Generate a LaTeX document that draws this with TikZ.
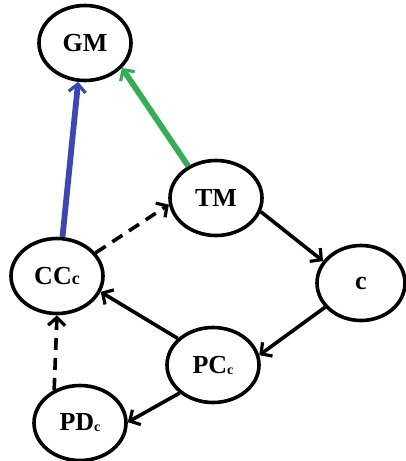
\documentclass[tikz,border=0pt]{standalone}
\usepackage{fontspec}
\setmainfont{Liberation Serif}
\usetikzlibrary{shapes.geometric,arrows.meta}
\begin{document}
\begin{tikzpicture}[x=1pt,y=-1pt,
  st/.style={ellipse,draw,line width=3.6pt,minimum width=92pt,minimum height=75pt,inner sep=0pt,font=\bfseries\fontsize{26}{26}\selectfont},
  ar/.style={line width=3.6pt,-{Straight Barb[length=8pt,width=17pt,line width=3.2pt]}},
  dar/.style={ar,dash pattern=on 12pt off 8pt}]
\useasboundingbox (0,0) rectangle (406,461);
\definecolor{myblue}{RGB}{60,70,185}
\definecolor{mygreen}{RGB}{50,175,85}
\node[st] (GM) at (85,43) {GM};
\node[st] (TM) at (216,198) {TM};
\node[st] (CC) at (57,276) {CC\raisebox{-0.5pt}{\fontsize{18}{18}\selectfont c}};
\node[st,minimum width=88pt] (c) at (361,283) {c};
\node[st] (PC) at (213,365) {PC\raisebox{-1pt}{\fontsize{14}{14}\selectfont c}};
\node[st] (PD) at (80,423) {PD\raisebox{-1pt}{\fontsize{14}{14}\selectfont c}};
\draw[ar,myblue,line width=5.8pt] (CC.82) -- (GM.260);
\draw[ar,mygreen,line width=5.8pt] (TM.131) -- (GM.-34);
\draw[dar] (CC.31) -- (TM.188);
\draw[ar] (TM.-17) -- (c.150);
\draw[ar] (c.-146) -- (PC.12);
\draw[ar] (PC.143) -- (CC.-20);
\draw[ar] (PC.-140) -- (PD.1);
\draw[dar] (PD.128) -- (CC.-90);
\end{tikzpicture}
\end{document}
